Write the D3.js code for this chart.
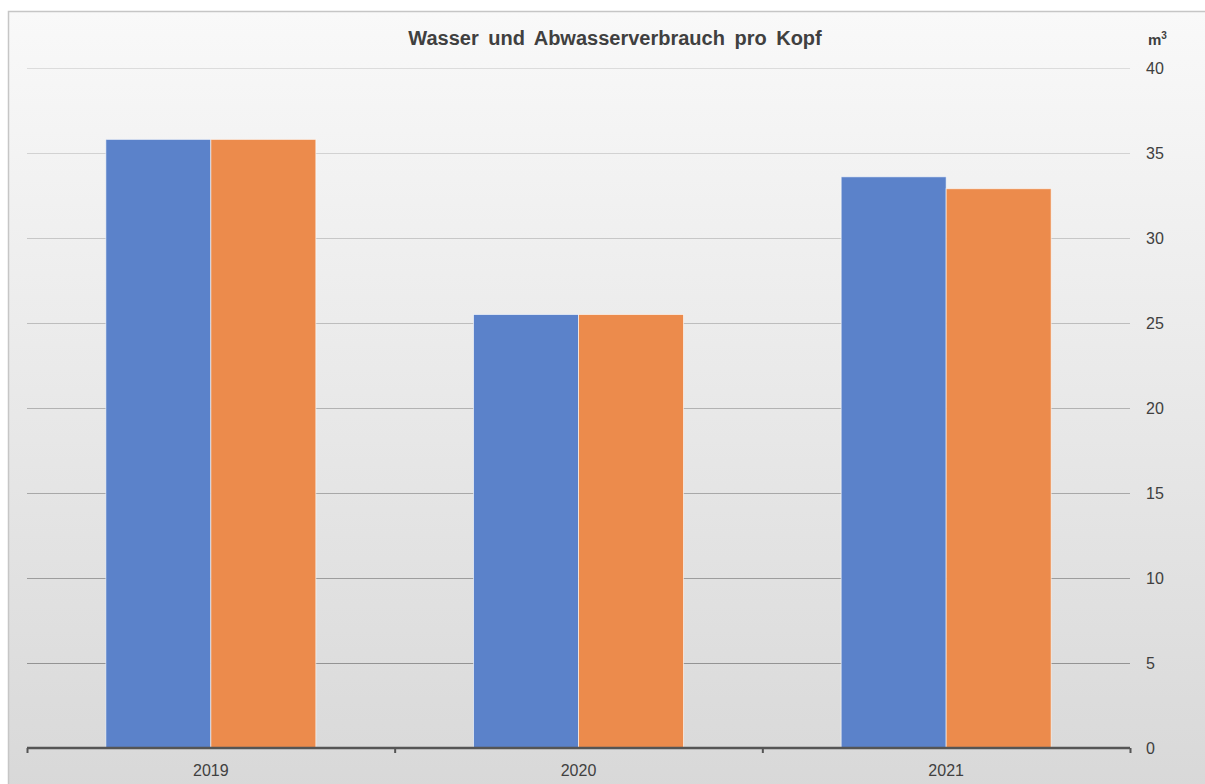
<!DOCTYPE html>
<html>
<head>
<meta charset="utf-8">
<script src="https://cdn.jsdelivr.net/npm/d3@7"></script>
<style>
  body { margin: 0; background: #fff; }
  svg { display: block; font-family: "Liberation Sans", Arial, sans-serif; }
</style>
</head>
<body>
<script>
// chart values
const years = ["2019", "2020", "2021"]
const wasser = [35.8, 25.5, 33.6]
const abwasser = [35.8, 25.5, 32.9]
const yTicks = [0, 5, 10, 15, 20, 25, 30, 35, 40]
const seriesColors = ["#5b82ca", "#ec8b4c"]

const width = 1205
const height = 784
const plotLeft = 27, plotRight = 1130, plotTop = 68, plotBottom = 748

const svg = d3.select("body").append("svg")
  .attr("width", width)
  .attr("height", height)

const defs = svg.append("defs")
const grad = defs.append("linearGradient")
  .attr("id", "bg").attr("x1", 0).attr("y1", 0).attr("x2", 0).attr("y2", 1)
grad.append("stop").attr("offset", "0%").attr("stop-color", "#f9f9f9")
grad.append("stop").attr("offset", "100%").attr("stop-color", "#d8d8d8")

// frame
svg.append("rect")
  .attr("x", 8.5).attr("y", 11.5)
  .attr("width", width).attr("height", height)
  .attr("fill", "url(#bg)")
  .attr("stroke", "#c6c6c6")
  .attr("stroke-width", 1.5)

const y = d3.scaleLinear().domain([0, 40]).range([plotBottom, plotTop])
const x = d3.scaleBand().domain(years).range([plotLeft, plotRight])
const inner = d3.scaleBand().domain([0, 1])
  .range([0, 210])

const lineColor = d3.scaleLinear().domain([40, 0]).range(["#dcdcdc", "#888888"])

// gridlines
svg.append("g").selectAll("line")
  .data(yTicks.filter(d => d > 0))
  .join("line")
  .attr("x1", plotLeft).attr("x2", plotRight)
  .attr("y1", d => Math.round(y(d)) + 0.5)
  .attr("y2", d => Math.round(y(d)) + 0.5)
  .attr("stroke", d => lineColor(d))
  .attr("stroke-width", 1.2)

// bars
const rows = years.map((yr, i) => ({ year: yr, vals: [wasser[i], abwasser[i]] }))
const groups = svg.append("g").selectAll("g")
  .data(rows)
  .join("g")
  .attr("transform", d => "translate(" + (x(d.year) + x.bandwidth() / 2 - 105) + ",0)")

groups.selectAll("rect")
  .data(d => d.vals.map((v, k) => ({ v, k })))
  .join("rect")
  .attr("x", d => inner(d.k))
  .attr("y", d => y(d.v))
  .attr("width", inner.bandwidth())
  .attr("height", d => plotBottom - y(d.v))
  .attr("fill", d => seriesColors[d.k])
  .attr("stroke", "rgba(255,255,255,0.6)")
  .attr("stroke-width", 1)

// x axis
const xAxis = d3.axisBottom(d3.scaleLinear().domain([0, 3]).range([plotLeft, plotRight]))
  .tickValues([0, 1, 2, 3]).tickSize(5).tickFormat("")
const xg = svg.append("g")
  .attr("transform", "translate(0," + plotBottom + ")")
  .call(xAxis)
xg.select(".domain").remove()
xg.selectAll(".tick line").attr("stroke", "#555").attr("stroke-width", 2)
xg.append("line")
  .attr("x1", plotLeft).attr("x2", plotRight)
  .attr("stroke", "#555").attr("stroke-width", 2.5)

svg.append("g").selectAll("text")
  .data(years)
  .join("text")
  .attr("x", d => x(d) + x.bandwidth() / 2)
  .attr("y", 776)
  .attr("text-anchor", "middle")
  .attr("font-size", 16)
  .attr("fill", "#404040")
  .text(d => d)

// y axis labels on the right
const yAxis = d3.axisRight(y).tickValues(yTicks).tickSize(0).tickPadding(16)
const yg = svg.append("g")
  .attr("transform", "translate(" + plotRight + ",0)")
  .call(yAxis)
yg.select(".domain").remove()
yg.selectAll("text")
  .attr("font-size", 16)
  .attr("font-family", "Liberation Sans, Arial, sans-serif")
  .attr("fill", "#404040")

// unit
const unit = svg.append("text")
  .attr("x", 1148).attr("y", 45)
  .attr("font-size", 15).attr("font-weight", "bold")
  .attr("fill", "#404040")
unit.append("tspan").text("m")
unit.append("tspan").attr("dy", -6).attr("font-size", 10).text("3")

// title
svg.append("text")
  .attr("x", 615).attr("y", 45)
  .attr("text-anchor", "middle")
  .attr("font-size", 20).attr("font-weight", "bold")
  .attr("fill", "#404040")
  .attr("word-spacing", 4)
  .text("Wasser und Abwasserverbrauch pro Kopf")
</script>
</body>
</html>
